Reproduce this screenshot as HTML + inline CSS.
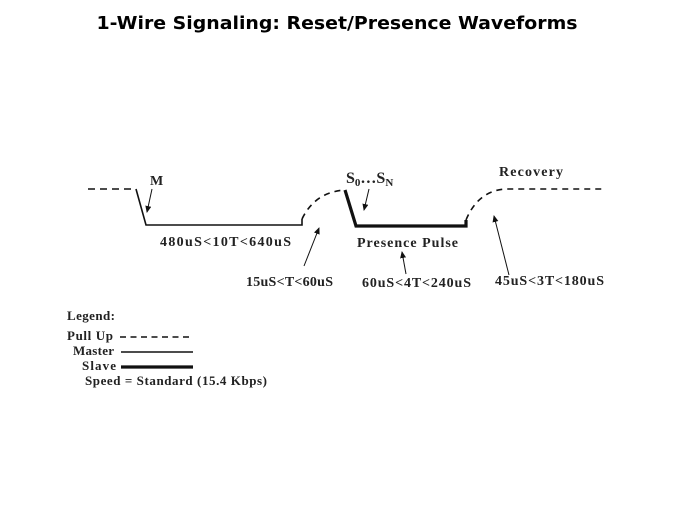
<!DOCTYPE html>
<html><head><meta charset="utf-8"><style>
html,body{margin:0;padding:0;background:#fff;width:674px;height:506px;overflow:hidden}
svg text{font-family:"Liberation Serif",serif;font-weight:bold;fill:#222}
</style></head><body>
<svg width="674" height="506" viewBox="0 0 674 506" xmlns="http://www.w3.org/2000/svg">
<defs><marker id="a" markerWidth="8" markerHeight="8" refX="6" refY="3" orient="auto" markerUnits="userSpaceOnUse"><path d="M0,0 L7,3 L0,6 z" fill="#111"/></marker></defs>
<text x="337" y="29" text-anchor="middle" style="font-family:'DejaVu Sans',sans-serif;font-size:18px;fill:#000" textLength="481" lengthAdjust="spacingAndGlyphs">1-Wire Signaling: Reset/Presence Waveforms</text>
<g fill="none" stroke="#111">
<line x1="88" y1="189" x2="136" y2="189" stroke-width="1.6" stroke-dasharray="7,5"/>
<polyline points="136,189 146,225 302,225 302,219" stroke-width="1.6"/>
<path d="M302,219 Q315,192 345,190" stroke-width="1.6" stroke-dasharray="6,5"/>
<polyline points="345,190 356,226 466,226 466,220" stroke-width="3.2"/>
<path d="M466,220 Q478,191 505,189 L606,189" stroke-width="1.6" stroke-dasharray="6,5"/>
<line x1="152" y1="189" x2="147" y2="212" stroke-width="1" marker-end="url(#a)"/>
<line x1="369" y1="189" x2="364" y2="210" stroke-width="1" marker-end="url(#a)"/>
<line x1="304" y1="266" x2="319" y2="228" stroke-width="1" marker-end="url(#a)"/>
<line x1="406" y1="274" x2="402" y2="252" stroke-width="1" marker-end="url(#a)"/>
<line x1="509" y1="275" x2="494" y2="216" stroke-width="1" marker-end="url(#a)"/>
<line x1="120" y1="337" x2="193" y2="337" stroke-width="1.5" stroke-dasharray="6,4.5"/>
<line x1="121" y1="352" x2="193" y2="352" stroke-width="1.5"/>
<line x1="121" y1="367" x2="193" y2="367" stroke-width="3.2"/>
</g>
<g font-size="14" lengthAdjust="spacingAndGlyphs">
<text x="150" y="185">M</text>
<text x="499" y="176" textLength="64">Recovery</text>
<text x="160" y="246" textLength="131">480uS&lt;10T&lt;640uS</text>
<text x="357" y="247" textLength="101">Presence Pulse</text>
<text x="246" y="286" textLength="87">15uS&lt;T&lt;60uS</text>
<text x="362" y="287" textLength="109">60uS&lt;4T&lt;240uS</text>
<text x="495" y="285" textLength="109">45uS&lt;3T&lt;180uS</text>
<text x="67" y="320" font-size="13" textLength="48">Legend:</text>
<text x="67" y="340" font-size="13" textLength="46">Pull Up</text>
<text x="73" y="355" font-size="13" textLength="41">Master</text>
<text x="82" y="370" font-size="13" textLength="34">Slave</text>
<text x="85" y="385" font-size="13" textLength="182">Speed  = Standard (15.4 Kbps)</text>
</g>
<text x="346" y="183" font-size="16">S<tspan font-size="11" dy="3">0</tspan><tspan dy="-3">…S</tspan><tspan font-size="11" dy="3">N</tspan></text>
</svg>
</body></html>
